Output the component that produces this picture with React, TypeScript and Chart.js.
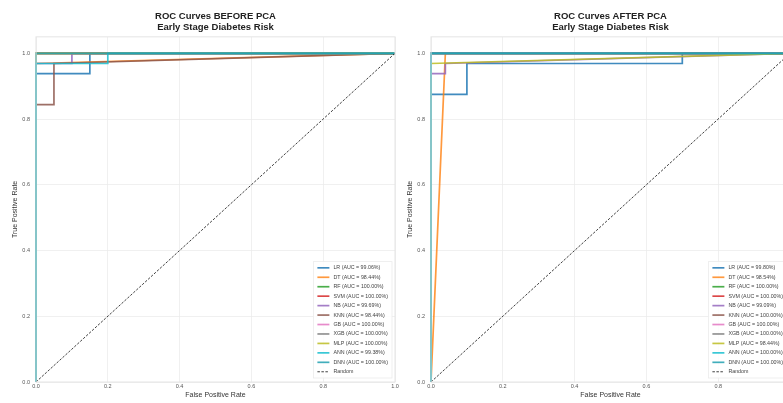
import React, { useEffect, useRef } from "react";
import { Chart, registerables } from "chart.js";

Chart.register(...registerables);

const FONT = '"Liberation Sans", Arial, sans-serif';

const MODEL_NAMES = ["LR", "DT", "RF", "SVM", "NB", "KNN", "GB", "XGB", "MLP", "ANN", "DNN"];
const MODEL_COLORS = [
  "rgba(31,119,180,0.85)",
  "rgba(255,127,14,0.8)",
  "rgba(44,160,44,0.85)",
  "rgba(214,39,40,0.85)",
  "rgba(148,103,189,0.85)",
  "rgba(140,86,75,0.85)",
  "rgba(227,119,194,0.85)",
  "rgba(127,127,127,0.85)",
  "rgba(188,189,34,0.85)",
  "rgba(23,190,207,0.85)",
  "rgba(32,160,176,0.85)",
];

const AUC_BEFORE = ["99.06", "98.44", "100.00", "100.00", "99.69", "98.44", "100.00", "100.00", "100.00", "99.38", "100.00"];
const AUC_AFTER = ["99.80", "98.54", "100.00", "100.00", "99.09", "100.00", "100.00", "100.00", "98.44", "100.00", "100.00"];

const AXIS_TICKS = [0, 0.2, 0.4, 0.6, 0.8, 1.0];
const RANDOM_LINE = [[0, 0], [1, 1]];

// ROC points [fpr, tpr] – before PCA
const BEFORE_LR = [[0, 0], [0, 0.938], [0.15, 0.938], [0.15, 1], [1, 1]];
const BEFORE_DT = [[0, 0], [0, 0.969], [1, 1]];
const BEFORE_RF = [[0, 0], [0, 1], [1, 1]];
const BEFORE_SVM = [[0, 0], [0, 1], [1, 1]];
const BEFORE_NB = [[0, 0], [0, 0.969], [0.1, 0.969], [0.1, 1], [1, 1]];
const BEFORE_KNN = [[0, 0], [0, 0.844], [0.05, 0.844], [0.05, 0.969], [1, 1]];
const BEFORE_GB = [[0, 0], [0, 1], [1, 1]];
const BEFORE_XGB = [[0, 0], [0, 1], [1, 1]];
const BEFORE_MLP = [[0, 0], [0, 1], [1, 1]];
const BEFORE_ANN = [[0, 0], [0, 0.969], [0.2, 0.969], [0.2, 1], [1, 1]];
const BEFORE_DNN = [[0, 0], [0, 1], [1, 1]];

// ROC points [fpr, tpr] – after PCA
const AFTER_LR = [[0, 0], [0, 0.875], [0.1, 0.875], [0.1, 0.969], [0.7, 0.969], [0.7, 1], [1, 1]];
const AFTER_DT = [[0, 0], [0.04, 1], [1, 1]];
const AFTER_RF = [[0, 0], [0, 1], [1, 1]];
const AFTER_SVM = [[0, 0], [0, 1], [1, 1]];
const AFTER_NB = [[0, 0], [0, 0.938], [0.04, 0.938], [0.04, 0.969], [1, 1]];
const AFTER_KNN = [[0, 0], [0, 1], [1, 1]];
const AFTER_GB = [[0, 0], [0, 1], [1, 1]];
const AFTER_XGB = [[0, 0], [0, 1], [1, 1]];
const AFTER_MLP = [[0, 0], [0, 0.969], [1, 1]];
const AFTER_ANN = [[0, 0], [0, 1], [1, 1]];
const AFTER_DNN = [[0, 0], [0, 1], [1, 1]];

const BEFORE_CURVES = [BEFORE_LR, BEFORE_DT, BEFORE_RF, BEFORE_SVM, BEFORE_NB, BEFORE_KNN, BEFORE_GB, BEFORE_XGB, BEFORE_MLP, BEFORE_ANN, BEFORE_DNN];
const AFTER_CURVES = [AFTER_LR, AFTER_DT, AFTER_RF, AFTER_SVM, AFTER_NB, AFTER_KNN, AFTER_GB, AFTER_XGB, AFTER_MLP, AFTER_ANN, AFTER_DNN];

const TITLE_BEFORE = ["ROC Curves BEFORE PCA", "Early Stage Diabetes Risk"];
const TITLE_AFTER = ["ROC Curves AFTER PCA", "Early Stage Diabetes Risk"];

const framePlugin = {
  id: "frame",
  afterDraw(chart: any) {
    const { ctx, chartArea } = chart;
    ctx.save();
    ctx.strokeStyle = "#e4e4e4";
    ctx.lineWidth = 1;
    ctx.strokeRect(chartArea.left, chartArea.top, chartArea.right - chartArea.left, chartArea.bottom - chartArea.top);
    ctx.restore();
  },
};

const legendPlugin = {
  id: "insideLegend",
  afterDraw(chart: any) {
    const { ctx, chartArea } = chart;
    const items = chart.data.datasets.map((ds: any) => ({
      label: ds.label,
      color: ds.borderColor,
      dash: ds.borderDash || [],
      width: ds.borderWidth,
    }));
    ctx.save();
    ctx.font = `5.3px ${FONT}`;
    const maxW = Math.max(...items.map((it: any) => ctx.measureText(it.label).width));
    const rowH = 9.45;
    const padX = 4;
    const padY = 1.5;
    const lineLen = 12;
    const gap = 4;
    const boxW = padX + lineLen + gap + maxW + padX;
    const boxH = padY * 2 + rowH * items.length;
    const right = chartArea.right - 3;
    const bottom = chartArea.bottom - 4;
    const left = right - boxW;
    const top = bottom - boxH;
    ctx.fillStyle = "rgba(255,255,255,0.85)";
    ctx.fillRect(left, top, boxW, boxH);
    ctx.strokeStyle = "#ebebeb";
    ctx.lineWidth = 0.8;
    ctx.strokeRect(left, top, boxW, boxH);
    items.forEach((it: any, i: number) => {
      const cy = top + padY + rowH * i + rowH / 2;
      ctx.beginPath();
      ctx.setLineDash(it.dash);
      ctx.strokeStyle = it.color;
      ctx.lineWidth = it.width;
      ctx.moveTo(left + padX, cy);
      ctx.lineTo(left + padX + lineLen, cy);
      ctx.stroke();
      ctx.setLineDash([]);
      ctx.fillStyle = "#444";
      ctx.textAlign = "left";
      ctx.textBaseline = "middle";
      ctx.fillText(it.label, left + padX + lineLen + gap, cy);
    });
    ctx.restore();
  },
};

function buildDatasets(curves: number[][][], aucs: string[]) {
  const ds: any[] = curves.map((pts, i) => ({
    label: `${MODEL_NAMES[i]} (AUC = ${aucs[i]}%)`,
    data: pts.map(([x, y]) => ({ x, y })),
    borderColor: MODEL_COLORS[i],
    backgroundColor: MODEL_COLORS[i],
    borderWidth: 1.7,
    pointRadius: 0,
    showLine: true,
    fill: false,
    tension: 0,
    order: MODEL_NAMES.length - i,
    clip: false,
  }));
  ds.push({
    label: "Random",
    data: RANDOM_LINE.map(([x, y]) => ({ x, y })),
    borderColor: "rgba(30,30,30,0.85)",
    backgroundColor: "rgba(30,30,30,0.85)",
    borderDash: [2.5, 1.5],
    borderWidth: 1,
    pointRadius: 0,
    showLine: true,
    fill: false,
    order: 0,
    clip: false,
  });
  return ds;
}

function makeChart(canvas: HTMLCanvasElement, title: string[], curves: number[][][], aucs: string[]) {
  const tickFont = { family: FONT, size: 5.5 };
  const titleFont = { family: FONT, size: 7 };
  return new Chart(canvas, {
    type: "scatter",
    data: { datasets: buildDatasets(curves, aucs) },
    plugins: [framePlugin, legendPlugin],
    options: {
      animation: false,
      responsive: false,
      layout: { padding: { top: 0, left: 0, right: 15, bottom: 0 } },
      plugins: {
        legend: { display: false },
        tooltip: { enabled: false },
        title: {
          display: true,
          text: title,
          fullSize: false,
          color: "#222",
          font: { family: FONT, size: 9.5, weight: "bold", lineHeight: 1.15 },
          padding: { top: 11, bottom: 4 },
        },
      },
      scales: {
        x: {
          type: "linear",
          min: 0,
          max: 1,
          afterBuildTicks: (s: any) => {
            s.ticks = AXIS_TICKS.map((v) => ({ value: v }));
          },
          afterFit: (s: any) => {
            s.height = 21;
          },
          ticks: {
            font: tickFont,
            color: "#555",
            padding: 1.5,
            maxRotation: 0,
            autoSkip: false,
            callback: (v: any) => Number(v).toFixed(1),
          },
          grid: { color: "#ececec", lineWidth: 0.8, drawTicks: false },
          border: { display: false },
          title: {
            display: true,
            text: "False Positive Rate",
            color: "#333",
            font: titleFont,
            padding: { top: 0, bottom: 4 },
          },
        },
        y: {
          type: "linear",
          min: 0,
          max: 1.05,
          afterBuildTicks: (s: any) => {
            s.ticks = AXIS_TICKS.map((v) => ({ value: v }));
          },
          afterFit: (s: any) => {
            s.width = 36;
          },
          ticks: {
            font: tickFont,
            color: "#555",
            padding: 6,
            autoSkip: false,
            callback: (v: any) => Number(v).toFixed(1),
          },
          grid: { color: "#ececec", lineWidth: 0.8, drawTicks: false },
          border: { display: false },
          title: {
            display: true,
            text: "True Positive Rate",
            color: "#333",
            font: titleFont,
            padding: { top: 11, bottom: 0 },
          },
        },
      },
    } as any,
  });
}

export default function App() {
  const leftRef = useRef<HTMLCanvasElement>(null);
  const rightRef = useRef<HTMLCanvasElement>(null);

  useEffect(() => {
    const c1 = makeChart(leftRef.current!, TITLE_BEFORE, BEFORE_CURVES, AUC_BEFORE);
    const c2 = makeChart(rightRef.current!, TITLE_AFTER, AFTER_CURVES, AUC_AFTER);
    return () => {
      c1.destroy();
      c2.destroy();
    };
  }, []);

  return (
    <div
      style={{
        position: "fixed",
        left: 0,
        top: 0,
        width: 783,
        height: 403,
        overflow: "hidden",
        background: "#fff",
      }}
    >
      <canvas ref={leftRef} width={410} height={403} style={{ position: "absolute", left: 0, top: 0 }} />
      <canvas ref={rightRef} width={410} height={403} style={{ position: "absolute", left: 395, top: 0 }} />
    </div>
  );
}
